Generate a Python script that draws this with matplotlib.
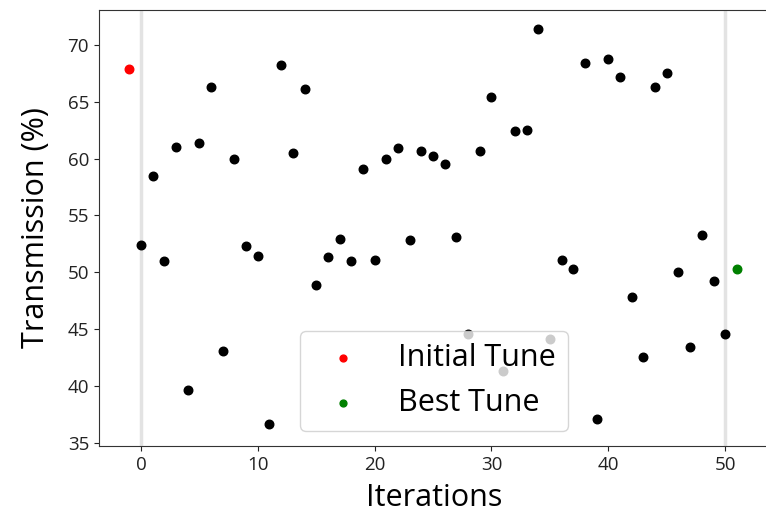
import numpy as np
from matplotlib import pyplot as plt

plt.rcParams['font.family'] = ['Open Sans', 'DejaVu Sans']

# tuning run: transmission per iteration
iterations = list(range(0, 51))
transmission = [
    52.4, 58.5, 51.0, 61.0, 39.6, 61.4, 66.3, 43.1, 60.0, 52.3,
    51.4, 36.6, 68.2, 60.5, 66.1, 48.9, 51.3, 52.9, 51.0, 59.1,
    51.1, 60.0, 60.9, 52.8, 60.7, 60.2, 59.5, 53.1, 44.6, 60.7,
    65.4, 41.3, 62.4, 62.5, 71.4, 44.1, 51.1, 50.3, 68.4, 37.1,
    68.8, 67.2, 47.8, 42.5, 66.3, 67.5, 50.0, 43.4, 53.3, 49.2,
    44.6,
]

initial_iter = -1
initial_value = 67.9
best_iter = 51
best_value = 50.3

fig = plt.figure(figsize=(7.66, 5.15), dpi=100)
# axes run a little past the right edge, as in the cropped original
ax = fig.add_axes([0.129, 0.134, 0.875, 0.847])

ax.axvline(iterations[0], color='#e3e3e3', linewidth=2.5, zorder=0)
ax.axvline(iterations[-1], color='#e3e3e3', linewidth=2.5, zorder=0)

ax.scatter(iterations, transmission, c='black', s=38, zorder=2)
ax.scatter([initial_iter], [initial_value], c='red', s=38, zorder=2,
           label='Initial Tune')
ax.scatter([best_iter], [best_value], c='green', s=38, zorder=2,
           label='Best Tune')

ax.set_xlim(-3.6, 53.75)
ax.set_ylim(34.7, 73.1)
ax.set_xticks(np.arange(0, 51, 10))
ax.set_yticks(np.arange(35, 71, 5))
ax.tick_params(labelsize=13.5, colors='#222222')
for s in ax.spines.values():
    s.set_color('#333333')
ax.spines['right'].set_visible(False)

ax.set_xlabel('Iterations', fontsize=22, labelpad=7)
ax.set_ylabel('Transmission (%)', fontsize=22, labelpad=12)

ax.legend(loc='lower center', fontsize=22, markerscale=0.8)

fig.savefig('out.png', dpi=100)
